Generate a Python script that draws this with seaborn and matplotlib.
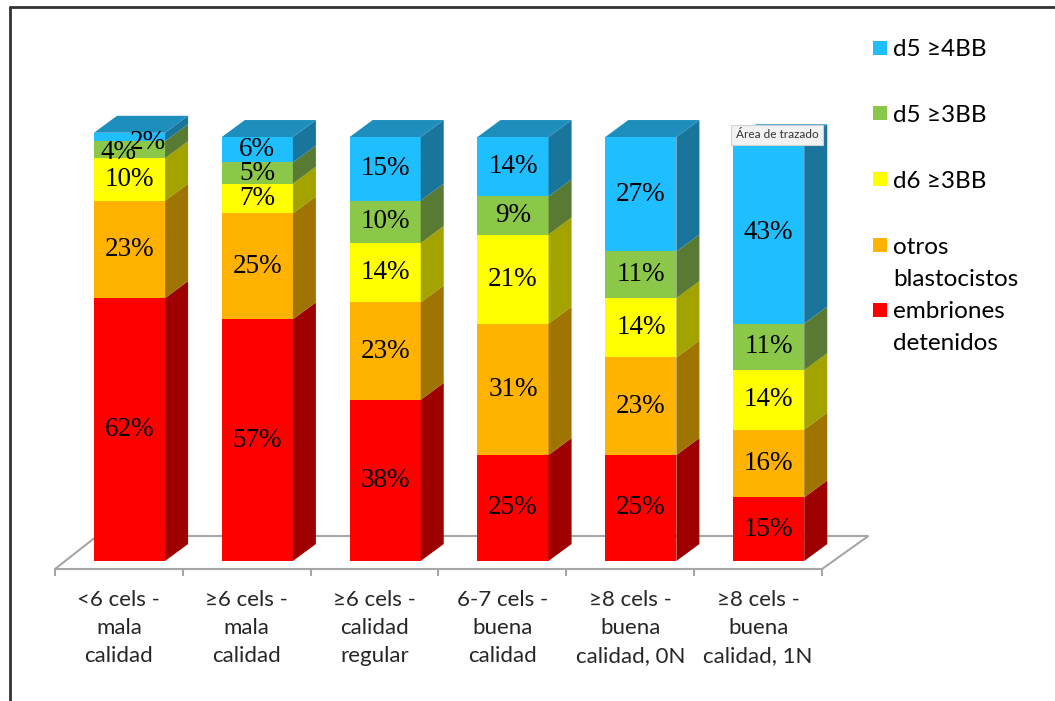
import numpy as np
import pandas as pd
import matplotlib
matplotlib.use("Agg")
import matplotlib.pyplot as plt
import seaborn as sns
from matplotlib.patches import Polygon, Rectangle
from matplotlib.lines import Line2D

# ---------------- data ----------------
categories = ["<6 cels -\nmala\ncalidad", "≥6 cels -\nmala\ncalidad",
              "≥6 cels -\ncalidad\nregular", "6-7 cels -\nbuena\ncalidad",
              "≥8 cels -\nbuena\ncalidad, 0N", "≥8 cels -\nbuena\ncalidad, 1N"]
series = ["embriones\ndetenidos", "otros\nblastocistos", "d6 ≥3BB", "d5 ≥3BB", "d5 ≥4BB"]
embriones = [62, 57, 38, 25, 25, 15]
otros = [23, 25, 23, 31, 23, 16]
d6_3bb = [10, 7, 14, 21, 14, 14]
d5_3bb = [4, 5, 10, 9, 11, 11]
d5_4bb = [2, 6, 15, 14, 27, 43]
values = [embriones, otros, d6_3bb, d5_3bb, d5_4bb]

front_colors = ["#FF0000", "#FFB300", "#FFFF00", "#8BC84A", "#1FBEFE"]
side_colors = ["#9E0000", "#A07400", "#A3A300", "#587A33", "#19759B"]
top_color = "#1E8EBD"
floor_color = "#A6A6A6"

# ---------------- figure ----------------
sns.set_style("white")
plt.rcParams["font.family"] = ["Lato", "DejaVu Sans"]

W, H = 1055, 701
fig = plt.figure(figsize=(W / 100, H / 100), dpi=100)
fig.patch.set_facecolor("white")
ax = fig.add_axes([55 / W, (H - 561) / H, 767 / W, 424 / H])
ax.set_facecolor("none")

# cumulative long table for stacked front faces
rows = []
cum = np.zeros(len(categories))
for s, v in zip(series, values):
    cum = cum + np.array(v)
    for c, t in zip(categories, cum):
        rows.append({"cat": c, "series": s, "cum": t})
df = pd.DataFrame(rows)

bar_w = 0.556
sns.barplot(data=df, x="cat", y="cum", hue="series", hue_order=series[::-1],
            palette=dict(zip(series, front_colors)), dodge=False, width=bar_w,
            saturation=1, legend=False, ax=ax, edgecolor="none", linewidth=0,
            order=categories, zorder=2)
for p in ax.patches:
    p.set_clip_on(False)

# 3-D depth in data units
dx, dy = 0.18, 4.0
for i in range(len(categories)):
    xl, xr = i - bar_w / 2, i + bar_w / 2
    base = 0.0
    for k, v in enumerate(values):
        top = base + v[i]
        ax.add_patch(Polygon([(xr, base), (xr + dx, base + dy), (xr + dx, top + dy), (xr, top)],
                             closed=True, facecolor=side_colors[k], edgecolor="none",
                             clip_on=False, zorder=2))
        mid = (base + top) / 2
        off = (0, 0)
        if i == 0 and k == 3:
            off = (-8, -2)
        if i == 0 and k == 4:
            off = (13, -4)
        ax.annotate(f"{v[i]}%", xy=(i, mid), xytext=off, textcoords="offset points",
                    ha="center", va="center", fontsize=19.5, family="Liberation Serif",
                    color="black", zorder=5, annotation_clip=False)
        base = top
    ax.add_patch(Polygon([(xl, base), (xl + dx, base + dy), (xr + dx, base + dy), (xr, base)],
                         closed=True, facecolor=top_color, edgecolor="none",
                         clip_on=False, zorder=2))

# floor
x0, x1 = -0.583, 5.417
floor_front = -1.89
floor_back = 5.9
bx0, bx1 = -0.254, 5.78
ax.plot([x0, bx0, bx1, x1], [floor_front, floor_back, floor_back, floor_front],
        color=floor_color, lw=1.5, clip_on=False, zorder=1, solid_joinstyle="miter")

ax.set_xlim(x0, x1)
ax.set_ylim(0, 100)
for s in ["left", "top", "right"]:
    ax.spines[s].set_visible(False)
ax.spines["bottom"].set_position(("data", floor_front))
ax.spines["bottom"].set_color(floor_color)
ax.spines["bottom"].set_linewidth(1.5)
ax.set_yticks([])
ax.set_xticks(np.arange(7) + x0, [""] * 7)
ax.set_xticks(np.arange(len(categories)) - 0.083, categories, minor=True)
ax.tick_params(axis="x", which="major", length=5, width=1.5, color=floor_color, bottom=True)
ax.tick_params(axis="x", which="minor", length=0, pad=15, labelsize=16)
for t in ax.get_xticklabels(minor=True):
    t.set_linespacing(1.5)
    t.set_family(["Lato", "DejaVu Sans"])
ax.set_xlabel("")
ax.set_ylabel("")

# legend (Excel-style fixed pitch)
leg_y = [48, 113, 179, 245, 310]
leg_order = [4, 3, 2, 1, 0]
for yc, k in zip(leg_y, leg_order):
    fig.add_artist(Rectangle((873 / W, (H - yc - 7) / H), 14 / W, 14 / H,
                             transform=fig.transFigure, facecolor=front_colors[k],
                             edgecolor="none"))
    for j, line in enumerate(series[k].split("\n")):
        fig.text(893 / W, (H - yc - 2 - 32 * j) / H, line, ha="left", va="center",
                 fontsize=17.5, family=["Lato", "DejaVu Sans"], color="black")

# tooltip
fig.text(777 / W, (H - 135) / H, "Área de trazado", ha="center", va="center",
         fontsize=8.5, family=["Lato", "DejaVu Sans"], color="#333333",
         bbox=dict(boxstyle="square,pad=0.35", facecolor="#F2F2F2", edgecolor="#D0D0D0", lw=0.8))

# outer frame lines
fig.add_artist(Line2D([10 / W, 1], [(H - 7) / H, (H - 7) / H], transform=fig.transFigure,
                      color="#333333", lw=2))
fig.add_artist(Line2D([10 / W, 10 / W], [0, (H - 7) / H], transform=fig.transFigure,
                      color="#333333", lw=2))

fig.savefig("out.png", dpi=100)
